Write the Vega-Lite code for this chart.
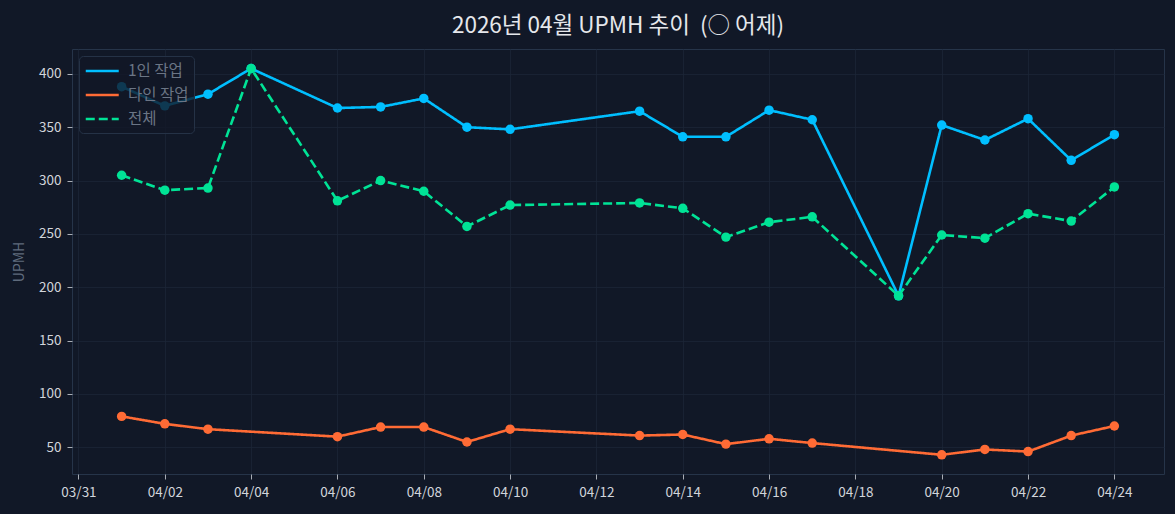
{
  "$schema": "https://vega.github.io/schema/vega-lite/v6.json",
  "width": 1092,
  "height": 425,
  "autosize": {"type": "none"},
  "padding": {"left": 72, "top": 49, "right": 11, "bottom": 40},
  "background": "#111827",
  "title": {
    "text": "2026년 04월 UPMH 추이\u00a0\u00a0(○ 어제)",
    "font": "Noto Sans CJK KR",
    "fontSize": 22.5,
    "fontWeight": "normal",
    "color": "#e5e7eb",
    "anchor": "middle",
    "offset": 12
  },
  "config": {
    "font": "Noto Sans CJK KR",
    "view": {"stroke": "#263449", "strokeWidth": 1},
    "axis": {
      "domain": false,
      "gridColor": "#1c2636",
      "gridWidth": 0.8,
      "tickColor": "#d1d5db",
      "tickSize": 5,
      "tickWidth": 0.8,
      "labelColor": "#d1d5db",
      "labelFont": "Noto Sans CJK KR",
      "labelFontSize": 13.5
    }
  },
  "data": {
    "values": [
      {"date": "2026-04-01", "series": "1인 작업", "v": 388},
      {"date": "2026-04-02", "series": "1인 작업", "v": 370},
      {"date": "2026-04-03", "series": "1인 작업", "v": 381},
      {"date": "2026-04-04", "series": "1인 작업", "v": 405},
      {"date": "2026-04-06", "series": "1인 작업", "v": 368},
      {"date": "2026-04-07", "series": "1인 작업", "v": 369},
      {"date": "2026-04-08", "series": "1인 작업", "v": 377},
      {"date": "2026-04-09", "series": "1인 작업", "v": 350},
      {"date": "2026-04-10", "series": "1인 작업", "v": 348},
      {"date": "2026-04-13", "series": "1인 작업", "v": 365},
      {"date": "2026-04-14", "series": "1인 작업", "v": 341},
      {"date": "2026-04-15", "series": "1인 작업", "v": 341},
      {"date": "2026-04-16", "series": "1인 작업", "v": 366},
      {"date": "2026-04-17", "series": "1인 작업", "v": 357},
      {"date": "2026-04-19", "series": "1인 작업", "v": 192},
      {"date": "2026-04-20", "series": "1인 작업", "v": 352},
      {"date": "2026-04-21", "series": "1인 작업", "v": 338},
      {"date": "2026-04-22", "series": "1인 작업", "v": 358},
      {"date": "2026-04-23", "series": "1인 작업", "v": 319},
      {"date": "2026-04-24", "series": "1인 작업", "v": 343},
      {"date": "2026-04-01", "series": "다인 작업", "v": 79},
      {"date": "2026-04-02", "series": "다인 작업", "v": 72},
      {"date": "2026-04-03", "series": "다인 작업", "v": 67},
      {"date": "2026-04-06", "series": "다인 작업", "v": 60},
      {"date": "2026-04-07", "series": "다인 작업", "v": 69},
      {"date": "2026-04-08", "series": "다인 작업", "v": 69},
      {"date": "2026-04-09", "series": "다인 작업", "v": 55},
      {"date": "2026-04-10", "series": "다인 작업", "v": 67},
      {"date": "2026-04-13", "series": "다인 작업", "v": 61},
      {"date": "2026-04-14", "series": "다인 작업", "v": 62},
      {"date": "2026-04-15", "series": "다인 작업", "v": 53},
      {"date": "2026-04-16", "series": "다인 작업", "v": 58},
      {"date": "2026-04-17", "series": "다인 작업", "v": 54},
      {"date": "2026-04-20", "series": "다인 작업", "v": 43},
      {"date": "2026-04-21", "series": "다인 작업", "v": 48},
      {"date": "2026-04-22", "series": "다인 작업", "v": 46},
      {"date": "2026-04-23", "series": "다인 작업", "v": 61},
      {"date": "2026-04-24", "series": "다인 작업", "v": 70},
      {"date": "2026-04-01", "series": "전체", "v": 305},
      {"date": "2026-04-02", "series": "전체", "v": 291},
      {"date": "2026-04-03", "series": "전체", "v": 293},
      {"date": "2026-04-04", "series": "전체", "v": 405},
      {"date": "2026-04-06", "series": "전체", "v": 281},
      {"date": "2026-04-07", "series": "전체", "v": 300},
      {"date": "2026-04-08", "series": "전체", "v": 290},
      {"date": "2026-04-09", "series": "전체", "v": 257},
      {"date": "2026-04-10", "series": "전체", "v": 277},
      {"date": "2026-04-13", "series": "전체", "v": 279},
      {"date": "2026-04-14", "series": "전체", "v": 274},
      {"date": "2026-04-15", "series": "전체", "v": 247},
      {"date": "2026-04-16", "series": "전체", "v": 261},
      {"date": "2026-04-17", "series": "전체", "v": 266},
      {"date": "2026-04-19", "series": "전체", "v": 192},
      {"date": "2026-04-20", "series": "전체", "v": 249},
      {"date": "2026-04-21", "series": "전체", "v": 246},
      {"date": "2026-04-22", "series": "전체", "v": 269},
      {"date": "2026-04-23", "series": "전체", "v": 262},
      {"date": "2026-04-24", "series": "전체", "v": 294}
    ]
  },
  "encoding": {
    "x": {
      "field": "date",
      "type": "temporal",
      "scale": {
        "type": "utc",
        "domain": [
          {"year": 2026, "month": 3, "date": 30, "hours": 20, "minutes": 24, "utc": true},
          {"year": 2026, "month": 4, "date": 25, "hours": 3, "minutes": 36, "utc": true}
        ]
      },
      "axis": {
        "title": null,
        "format": "%m/%d",
        "labelAngle": 0,
        "labelPadding": 6,
        "labelFlush": false,
        "labelOverlap": false,
        "values": [
          {"year": 2026, "month": 3, "date": 31, "utc": true},
          {"year": 2026, "month": 4, "date": 2, "utc": true},
          {"year": 2026, "month": 4, "date": 4, "utc": true},
          {"year": 2026, "month": 4, "date": 6, "utc": true},
          {"year": 2026, "month": 4, "date": 8, "utc": true},
          {"year": 2026, "month": 4, "date": 10, "utc": true},
          {"year": 2026, "month": 4, "date": 12, "utc": true},
          {"year": 2026, "month": 4, "date": 14, "utc": true},
          {"year": 2026, "month": 4, "date": 16, "utc": true},
          {"year": 2026, "month": 4, "date": 18, "utc": true},
          {"year": 2026, "month": 4, "date": 20, "utc": true},
          {"year": 2026, "month": 4, "date": 22, "utc": true},
          {"year": 2026, "month": 4, "date": 24, "utc": true}
        ]
      }
    },
    "y": {
      "field": "v",
      "type": "quantitative",
      "scale": {"domain": [25, 423.3], "nice": false, "zero": false},
      "axis": {
        "title": "UPMH",
        "titleColor": "#5f6b7d",
        "titleFont": "Noto Sans CJK KR",
        "titleFontSize": 14,
        "titleFontWeight": "normal",
        "titleAngle": 270,
        "titleX": -53,
        "titleY": 212.5,
        "titleAlign": "center",
        "titleBaseline": "middle",
        "labelPadding": 6,
        "values": [50, 100, 150, 200, 250, 300, 350, 400]
      }
    }
  },
  "layer": [
    {
      "mark": {"type": "line", "strokeWidth": 2.6, "strokeJoin": "round"},
      "encoding": {
        "color": {
          "field": "series",
          "type": "nominal",
          "scale": {"domain": ["1인 작업", "다인 작업", "전체"], "range": ["#00bfff", "#ff6b35", "#00e396"]},
          "legend": {
            "title": null,
            "orient": "none",
            "legendX": 7,
            "legendY": 7,
            "symbolType": "M-1,0H3",
            "symbolSize": 272,
            "symbolStrokeWidth": 2.6,
            "labelOffset": 24,
            "labelFontSize": 15.5,
            "labelColor": "#6b7585",
            "labelFont": "Noto Sans CJK KR",
            "rowPadding": 5,
            "padding": 5,
            "fillColor": "rgba(17,24,39,0.8)",
            "strokeColor": "#253246",
            "cornerRadius": 4
          }
        },
        "strokeDash": {
          "field": "series",
          "type": "nominal",
          "scale": {"domain": ["1인 작업", "다인 작업", "전체"], "range": [[1, 0], [1, 0], [9, 4]]},
          "legend": {
            "title": null,
            "orient": "none",
            "legendX": 7,
            "legendY": 7,
            "symbolType": "M-1,0H3",
            "symbolSize": 272,
            "symbolStrokeWidth": 2.6,
            "labelOffset": 24,
            "labelFontSize": 15.5,
            "labelColor": "#6b7585",
            "labelFont": "Noto Sans CJK KR",
            "rowPadding": 5,
            "padding": 5,
            "fillColor": "rgba(17,24,39,0.8)",
            "strokeColor": "#253246",
            "cornerRadius": 4
          }
        }
      }
    },
    {
      "mark": {"type": "circle", "size": 90, "opacity": 1},
      "encoding": {
        "color": {"field": "series", "type": "nominal", "legend": null}
      }
    }
  ]
}
